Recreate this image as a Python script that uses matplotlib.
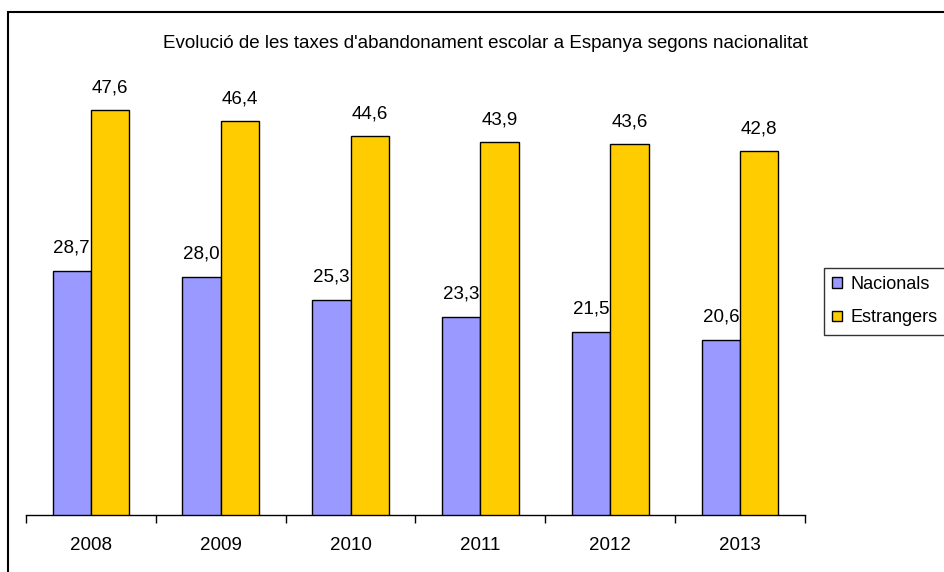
import matplotlib.pyplot as plt
import numpy as np
from matplotlib.patches import Rectangle

plt.rcParams['font.family'] = ['Liberation Sans', 'DejaVu Sans']

years = ['2008', '2009', '2010', '2011', '2012', '2013']
nacionals = [28.7, 28.0, 25.3, 23.3, 21.5, 20.6]
estrangers = [47.6, 46.4, 44.6, 43.9, 43.6, 42.8]
title = "Evolució de les taxes d'abandonament escolar a Espanya segons nacionalitat"

fig = plt.figure(figsize=(9.44, 5.72), dpi=100)
ax = fig.add_axes([26/944, 1 - 515/572, 779/944, 425/572])

x = np.arange(len(years))
w = 0.295
b1 = ax.bar(x - w/2, nacionals, w, color='#9999FF', edgecolor='black', linewidth=1, label='Nacionals', zorder=3)
b2 = ax.bar(x + w/2, estrangers, w, color='#FFCC00', edgecolor='black', linewidth=1, label='Estrangers', zorder=3)

# etiquetes de valor amb coma decimal
for xi, v in zip(x, nacionals):
    ax.annotate(f'{v:.1f}'.replace('.', ','), (xi - w/2, v), xytext=(0, 23), textcoords='offset pixels',
                ha='center', va='center', fontsize=13.5, zorder=2)
for xi, v in zip(x, estrangers):
    ax.annotate(f'{v:.1f}'.replace('.', ','), (xi + w/2, v), xytext=(0, 22), textcoords='offset pixels',
                ha='center', va='center', fontsize=13.5, zorder=2)

ax.set_xlim(-0.5, len(years) - 0.5)
ax.set_ylim(0, 50)
for s in ['top', 'right', 'left']:
    ax.spines[s].set_visible(False)
ax.spines['bottom'].set_linewidth(1)
ax.set_yticks([])
ax.set_xticks(np.arange(len(years) + 1) - 0.5)
ax.set_xticklabels([])
ax.tick_params(axis='x', length=6, width=1, direction='out')
ax.set_xticks(x, minor=True)
ax.set_xticklabels(years, minor=True, fontsize=13.5)
ax.tick_params(axis='x', which='minor', length=0, pad=16)

fig.text(485/944, 1 - 44/572, title, ha='center', va='center', fontsize=13.5)

leg = fig.legend(handles=[b1, b2], loc='upper left', bbox_to_anchor=(824/944, 1 - 268/572),
                 frameon=True, fancybox=False, edgecolor='black', fontsize=13,
                 handlelength=0.55, handleheight=0.55, handletextpad=0.45, borderpad=0.45,
                 labelspacing=0.9, borderaxespad=0)
leg.get_frame().set_linewidth(1)

fig.patches.append(Rectangle((8/944, -0.1), 1.0, 1 - 12/572 + 0.1, transform=fig.transFigure,
                             fill=False, edgecolor='black', linewidth=1.5))

fig.savefig('out.png', dpi=100)
